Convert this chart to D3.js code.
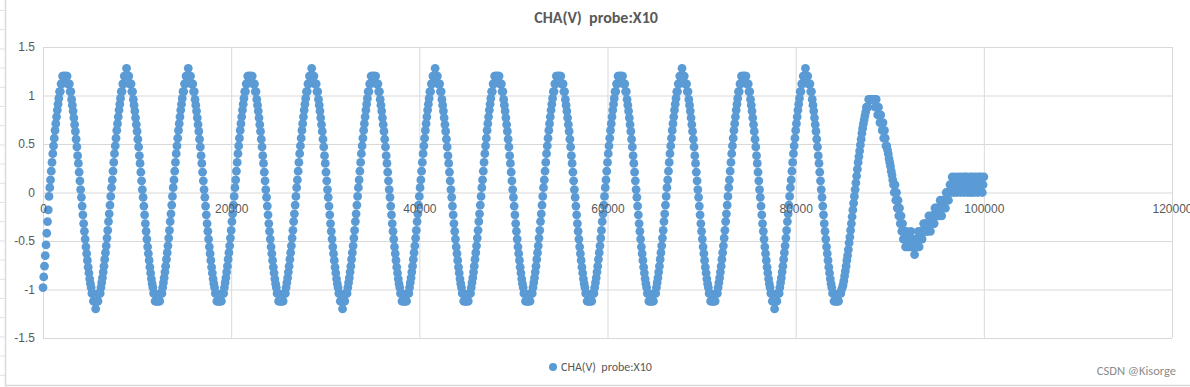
<!DOCTYPE html>
<html>
<head>
<meta charset="utf-8">
<script src="https://cdn.jsdelivr.net/npm/d3@7"></script>
<style>
  body { margin: 0; background: #fff; }
  svg { display: block; font-family: Calibri, Carlito, Lato, "Open Sans", sans-serif; }
</style>
</head>
<body>
<svg id="chart" width="1190" height="387"></svg>
<script>
// scope capture, one sample every 80 units on the x axis (0 .. 100000)
const sampleStep = 80;

const chaV = [
    // start, rising to the first peak then down
    -0.98,-0.87,-0.76,-0.65,-0.54,-0.42,-0.3,-0.18,-0.04,0.05,0.13,0.22,0.31,0.4,0.48,0.56,0.64,0.71,0.78,0.85,0.91,0.97,1.04,1.04,1.12,1.12,1.2,1.2,1.2,1.2,1.2,1.2,1.2,1.12,1.12,1.12,1.04,1.04,
    0.96,0.9,0.84,0.77,0.7,0.63,0.55,0.47,0.38,0.3,0.21,0.12,0.03,-0.05,-0.14,-0.23,-0.32,-0.4,-0.48,-0.56,-0.63,-0.7,-0.77,-0.83,-0.89,-0.94,-0.98,-1.04,-1.04,-1.12,-1.12,-1.12,
    // cycle 1
    -1.2,-1.12,-1.12,-1.12,-1.04,-1.04,-1.04,-0.98,-0.93,-0.88,-0.82,-0.76,-0.69,-0.62,-0.55,-0.47,-0.39,-0.3,-0.22,-0.13,-0.04,0.05,0.13,0.22,0.31,0.4,0.48,0.56,0.64,0.71,0.78,0.85,0.91,0.97,1.04,1.04,1.12,1.12,1.2,1.2,1.2,
    1.28,1.2,1.2,1.2,1.12,1.12,1.12,1.04,1.04,0.96,0.9,0.84,0.77,0.7,0.63,0.55,0.47,0.38,0.3,0.21,0.12,0.03,-0.05,-0.14,-0.23,-0.32,-0.4,-0.48,-0.56,-0.63,-0.7,-0.77,-0.83,-0.89,-0.94,-0.98,-1.04,-1.04,-1.12,-1.12,-1.12,
    // cycle 2
    -1.12,-1.12,-1.12,-1.12,-1.04,-1.04,-1.04,-0.98,-0.93,-0.88,-0.82,-0.76,-0.69,-0.62,-0.55,-0.47,-0.39,-0.3,-0.22,-0.13,-0.04,0.05,0.13,0.22,0.31,0.4,0.48,0.56,0.64,0.71,0.78,0.85,0.91,0.97,1.04,1.04,1.12,1.12,1.2,1.2,1.2,
    1.28,1.2,1.2,1.2,1.12,1.12,1.12,1.04,1.04,0.96,0.9,0.84,0.77,0.7,0.63,0.55,0.47,0.38,0.3,0.21,0.12,0.03,-0.05,-0.14,-0.23,-0.32,-0.4,-0.48,-0.56,-0.63,-0.7,-0.77,-0.83,-0.89,-0.94,-0.98,-1.04,-1.04,-1.12,-1.12,-1.12,
    // cycle 3
    -1.12,-1.12,-1.12,-1.12,-1.04,-1.04,-1.04,-0.98,-0.93,-0.88,-0.82,-0.76,-0.69,-0.62,-0.55,-0.47,-0.39,-0.3,-0.22,-0.13,-0.04,0.05,0.13,0.22,0.31,0.4,0.48,0.56,0.64,0.71,0.78,0.85,0.91,0.97,1.04,1.04,1.12,1.12,1.2,1.2,1.2,
    1.2,1.2,1.2,1.2,1.12,1.12,1.12,1.04,1.04,0.96,0.9,0.84,0.77,0.7,0.63,0.55,0.47,0.38,0.3,0.21,0.12,0.03,-0.05,-0.14,-0.23,-0.32,-0.4,-0.48,-0.56,-0.63,-0.7,-0.77,-0.83,-0.89,-0.94,-0.98,-1.04,-1.04,-1.12,-1.12,-1.12,
    // cycle 4
    -1.12,-1.12,-1.12,-1.12,-1.04,-1.04,-1.04,-0.98,-0.93,-0.88,-0.82,-0.76,-0.69,-0.62,-0.55,-0.47,-0.39,-0.3,-0.22,-0.13,-0.04,0.05,0.13,0.22,0.31,0.4,0.48,0.56,0.64,0.71,0.78,0.85,0.91,0.97,1.04,1.04,1.12,1.12,1.2,1.2,1.2,
    1.28,1.2,1.2,1.2,1.12,1.12,1.12,1.04,1.04,0.96,0.9,0.84,0.77,0.7,0.63,0.55,0.47,0.38,0.3,0.21,0.12,0.03,-0.05,-0.14,-0.23,-0.32,-0.4,-0.48,-0.56,-0.63,-0.7,-0.77,-0.83,-0.89,-0.94,-0.98,-1.04,-1.04,-1.12,-1.12,-1.12,
    // cycle 5
    -1.2,-1.12,-1.12,-1.12,-1.04,-1.04,-1.04,-0.98,-0.93,-0.88,-0.82,-0.76,-0.69,-0.62,-0.55,-0.47,-0.39,-0.3,-0.22,-0.13,-0.04,0.05,0.13,0.22,0.31,0.4,0.48,0.56,0.64,0.71,0.78,0.85,0.91,0.97,1.04,1.04,1.12,1.12,1.2,1.2,1.2,
    1.2,1.2,1.2,1.2,1.12,1.12,1.12,1.04,1.04,0.96,0.9,0.84,0.77,0.7,0.63,0.55,0.47,0.38,0.3,0.21,0.12,0.03,-0.05,-0.14,-0.23,-0.32,-0.4,-0.48,-0.56,-0.63,-0.7,-0.77,-0.83,-0.89,-0.94,-0.98,-1.04,-1.04,-1.12,-1.12,-1.12,
    // cycle 6
    -1.12,-1.12,-1.12,-1.12,-1.04,-1.04,-1.04,-0.98,-0.93,-0.88,-0.82,-0.76,-0.69,-0.62,-0.55,-0.47,-0.39,-0.3,-0.22,-0.13,-0.04,0.05,0.13,0.22,0.31,0.4,0.48,0.56,0.64,0.71,0.78,0.85,0.91,0.97,1.04,1.04,1.12,1.12,1.2,1.2,1.2,
    1.28,1.2,1.2,1.2,1.12,1.12,1.12,1.04,1.04,0.96,0.9,0.84,0.77,0.7,0.63,0.55,0.47,0.38,0.3,0.21,0.12,0.03,-0.05,-0.14,-0.23,-0.32,-0.4,-0.48,-0.56,-0.63,-0.7,-0.77,-0.83,-0.89,-0.94,-0.98,-1.04,-1.04,-1.12,-1.12,-1.12,
    // cycle 7
    -1.12,-1.12,-1.12,-1.12,-1.04,-1.04,-1.04,-0.98,-0.93,-0.88,-0.82,-0.76,-0.69,-0.62,-0.55,-0.47,-0.39,-0.3,-0.22,-0.13,-0.04,0.05,0.13,0.22,0.31,0.4,0.48,0.56,0.64,0.71,0.78,0.85,0.91,0.97,1.04,1.04,1.12,1.12,1.2,1.2,1.2,
    1.2,1.2,1.2,1.2,1.12,1.12,1.12,1.04,1.04,0.96,0.9,0.84,0.77,0.7,0.63,0.55,0.47,0.38,0.3,0.21,0.12,0.03,-0.05,-0.14,-0.23,-0.32,-0.4,-0.48,-0.56,-0.63,-0.7,-0.77,-0.83,-0.89,-0.94,-0.98,-1.04,-1.04,-1.12,-1.12,-1.12,
    // cycle 8
    -1.12,-1.12,-1.12,-1.12,-1.04,-1.04,-1.04,-0.98,-0.93,-0.88,-0.82,-0.76,-0.69,-0.62,-0.55,-0.47,-0.39,-0.3,-0.22,-0.13,-0.04,0.05,0.13,0.22,0.31,0.4,0.48,0.56,0.64,0.71,0.78,0.85,0.91,0.97,1.04,1.04,1.12,1.12,1.2,1.2,1.2,
    1.2,1.2,1.2,1.2,1.12,1.12,1.12,1.04,1.04,0.96,0.9,0.84,0.77,0.7,0.63,0.55,0.47,0.38,0.3,0.21,0.12,0.03,-0.05,-0.14,-0.23,-0.32,-0.4,-0.48,-0.56,-0.63,-0.7,-0.77,-0.83,-0.89,-0.94,-0.98,-1.04,-1.04,-1.12,-1.12,-1.12,
    // cycle 9
    -1.12,-1.12,-1.12,-1.12,-1.04,-1.04,-1.04,-0.98,-0.93,-0.88,-0.82,-0.76,-0.69,-0.62,-0.55,-0.47,-0.39,-0.3,-0.22,-0.13,-0.04,0.05,0.13,0.22,0.31,0.4,0.48,0.56,0.64,0.71,0.78,0.85,0.91,0.97,1.04,1.04,1.12,1.12,1.2,1.2,1.2,
    1.2,1.2,1.2,1.2,1.12,1.12,1.12,1.04,1.04,0.96,0.9,0.84,0.77,0.7,0.63,0.55,0.47,0.38,0.3,0.21,0.12,0.03,-0.05,-0.14,-0.23,-0.32,-0.4,-0.48,-0.56,-0.63,-0.7,-0.77,-0.83,-0.89,-0.94,-0.98,-1.04,-1.04,-1.12,-1.12,-1.12,
    // cycle 10
    -1.12,-1.12,-1.12,-1.12,-1.04,-1.04,-1.04,-0.98,-0.93,-0.88,-0.82,-0.76,-0.69,-0.62,-0.55,-0.47,-0.39,-0.3,-0.22,-0.13,-0.04,0.05,0.13,0.22,0.31,0.4,0.48,0.56,0.64,0.71,0.78,0.85,0.91,0.97,1.04,1.04,1.12,1.12,1.2,1.2,1.2,
    1.28,1.2,1.2,1.2,1.12,1.12,1.12,1.04,1.04,0.96,0.9,0.84,0.77,0.7,0.63,0.55,0.47,0.38,0.3,0.21,0.12,0.03,-0.05,-0.14,-0.23,-0.32,-0.4,-0.48,-0.56,-0.63,-0.7,-0.77,-0.83,-0.89,-0.94,-0.98,-1.04,-1.04,-1.12,-1.12,-1.12,
    // cycle 11
    -1.12,-1.12,-1.12,-1.12,-1.04,-1.04,-1.04,-0.98,-0.93,-0.88,-0.82,-0.76,-0.69,-0.62,-0.55,-0.47,-0.39,-0.3,-0.22,-0.13,-0.04,0.05,0.13,0.22,0.31,0.4,0.48,0.56,0.64,0.71,0.78,0.85,0.91,0.97,1.04,1.04,1.12,1.12,1.2,1.2,1.2,
    1.2,1.2,1.2,1.2,1.12,1.12,1.12,1.04,1.04,0.96,0.9,0.84,0.77,0.7,0.63,0.55,0.47,0.38,0.3,0.21,0.12,0.03,-0.05,-0.14,-0.23,-0.32,-0.4,-0.48,-0.56,-0.63,-0.7,-0.77,-0.83,-0.89,-0.94,-0.98,-1.04,-1.04,-1.12,-1.12,-1.12,
    // cycle 12
    -1.2,-1.12,-1.12,-1.12,-1.04,-1.04,-1.04,-0.98,-0.93,-0.88,-0.82,-0.76,-0.69,-0.62,-0.55,-0.47,-0.39,-0.3,-0.22,-0.13,-0.04,0.05,0.13,0.22,0.31,0.4,0.48,0.56,0.64,0.71,0.78,0.85,0.91,0.97,1.04,1.04,1.12,1.12,1.2,1.2,1.2,
    1.28,1.2,1.2,1.2,1.12,1.12,1.12,1.04,1.04,0.96,0.9,0.84,0.77,0.7,0.63,0.55,0.47,0.38,0.3,0.21,0.12,0.03,-0.05,-0.14,-0.23,-0.32,-0.4,-0.48,-0.56,-0.63,-0.7,-0.77,-0.83,-0.89,-0.94,-0.98,-1.04,-1.04,-1.12,-1.12,-1.12,
    // last swing, lower peak
    -1.12,-1.12,-1.12,-1.12,-1.04,-1.04,-1.04,-1,-0.98,-0.95,
    -0.91,-0.86,-0.81,-0.76,-0.7,-0.65,-0.59,-0.52,-0.46,-0.39,
    -0.32,-0.25,-0.18,-0.11,-0.04,0.03,0.1,0.17,0.24,0.31,
    0.37,0.43,0.49,0.55,0.61,0.66,0.71,0.75,0.79,0.83,
    0.88,0.88,0.88,0.96,0.96,0.96,0.96,
    0.96,0.96,0.96,0.96,0.96,0.88,0.96,0.88,0.8,0.88,
    0.8,0.72,0.8,0.72,0.64,0.72,0.56,0.64,0.56,0.48,
    0.48,0.44,0.4,0.35,0.31,0.27,0.22,0.18,0.13,0.08,
    0,0.08,-0.08,0,-0.16,-0.08,-0.24,-0.16,-0.32,-0.24,
    -0.4,-0.32,-0.48,-0.4,-0.48,-0.56,-0.4,-0.56,-0.48,-0.56,
    -0.48,-0.56,-0.4,-0.56,-0.48,
    // noisy trough and settling
    -0.56,-0.48,-0.64,-0.56,-0.48,
    -0.56,-0.48,-0.4,-0.56,-0.48,
    -0.48,-0.4,-0.48,-0.4,-0.32,
    -0.4,-0.32,-0.4,-0.32,-0.4,
    -0.32,-0.24,-0.32,-0.4,-0.24,
    -0.32,-0.24,-0.24,-0.32,-0.16,
    -0.24,-0.16,-0.24,-0.16,-0.24,
    -0.16,-0.08,-0.16,-0.24,-0.08,
    -0.16,-0.08,-0.08,-0.16,0,
    -0.08,0,-0.08,0,0.08,
    0,0.08,0.16,0.08,0,
    0.08,0.16,0.08,0,0.08,
    0.08,0.16,0.08,0,0.08,0.16,0.08,0.08,0,0.16,
    0.08,0.16,0.08,0,0.08,0.08,0.16,0,0.08,0.16,
    0.08,0,0.08,0.16,0.08,0.08,0,0.16,0.08,0.08,
    0.16,0.08,0,0.08,0.16
];

const xTicks = [0, 20000, 40000, 60000, 80000, 100000, 120000];
const yTicks = [-1.5, -1, -0.5, 0, 0.5, 1, 1.5];
const chartTitle = 'CHA(V)  probe:X10';
const seriesName = 'CHA(V)  probe:X10';
const watermark = 'CSDN @Kisorge';

const svg = d3.select('#chart');
const plotLeft = 43, plotRight = 1172, plotTop = 47, plotBottom = 338;

const x = d3.scaleLinear().domain([0, 120000]).range([plotLeft, plotRight]);
const y = d3.scaleLinear().domain([-1.5, 1.5]).range([plotBottom, plotTop]);

// sheet row lines peeking out on the left + chart frame
svg.append('g')
    .selectAll('line')
    .data(d3.range(0, 20))
    .join('line')
    .attr('x1', 0).attr('x2', 5)
    .attr('y1', d => 10.5 + d * 19.2).attr('y2', d => 10.5 + d * 19.2)
    .attr('stroke', '#e3e3e3');
svg.append('path')
    .attr('d', 'M5.5,0V385.5H1190')
    .attr('fill', 'none')
    .attr('stroke', '#d9d9d9')
    .attr('stroke-width', 1.5);

// horizontal grid + y labels
const yAxis = svg.append('g')
    .attr('transform', `translate(${plotLeft},0)`)
    .call(d3.axisLeft(y).tickValues(yTicks).tickSize(-(plotRight - plotLeft)).tickPadding(8).tickFormat(d => String(d)));
yAxis.select('.domain').remove();
yAxis.selectAll('line').attr('stroke', '#d9d9d9');
yAxis.selectAll('text').attr('fill', '#595959').style('font-size', '12px');

// vertical grid
const xGrid = svg.append('g')
    .attr('transform', `translate(0,${plotBottom})`)
    .call(d3.axisBottom(x).tickValues(xTicks).tickSize(-(plotBottom - plotTop)).tickFormat(''));
xGrid.select('.domain').remove();
xGrid.selectAll('line').attr('stroke', '#d9d9d9');

// points
svg.append('g')
    .selectAll('circle')
    .data(chaV)
    .join('circle')
    .attr('cx', (d, i) => x(i * sampleStep))
    .attr('cy', d => y(d))
    .attr('r', 4.4)
    .attr('fill', '#5b9bd5');

// x labels sit under the zero line
const xAxis = svg.append('g')
    .attr('transform', `translate(0,${y(0)})`)
    .call(d3.axisBottom(x).tickValues(xTicks).tickSize(0).tickPadding(12).tickFormat(d => String(d)));
xAxis.select('.domain').remove();
xAxis.selectAll('text').attr('fill', '#595959').style('font-size', '12px');

// title
svg.append('text')
    .attr('x', 596).attr('y', 23)
    .attr('text-anchor', 'middle')
    .style('white-space', 'pre')
    .style('font-size', '16px')
    .style('font-weight', 'bold')
    .attr('fill', '#595959')
    .text(chartTitle);

// legend
const legend = svg.append('g');
legend.append('circle')
    .attr('cx', 553).attr('cy', 367).attr('r', 4)
    .attr('fill', '#5b9bd5');
legend.append('text')
    .attr('x', 561).attr('y', 371)
    .style('white-space', 'pre')
    .style('font-size', '12px')
    .attr('fill', '#595959')
    .text(seriesName);

svg.append('text')
    .attr('x', 1176).attr('y', 375)
    .attr('text-anchor', 'end')
    .style('font-size', '12.5px')
    .attr('fill', '#8c8c8c')
    .text(watermark);
</script>
</body>
</html>
